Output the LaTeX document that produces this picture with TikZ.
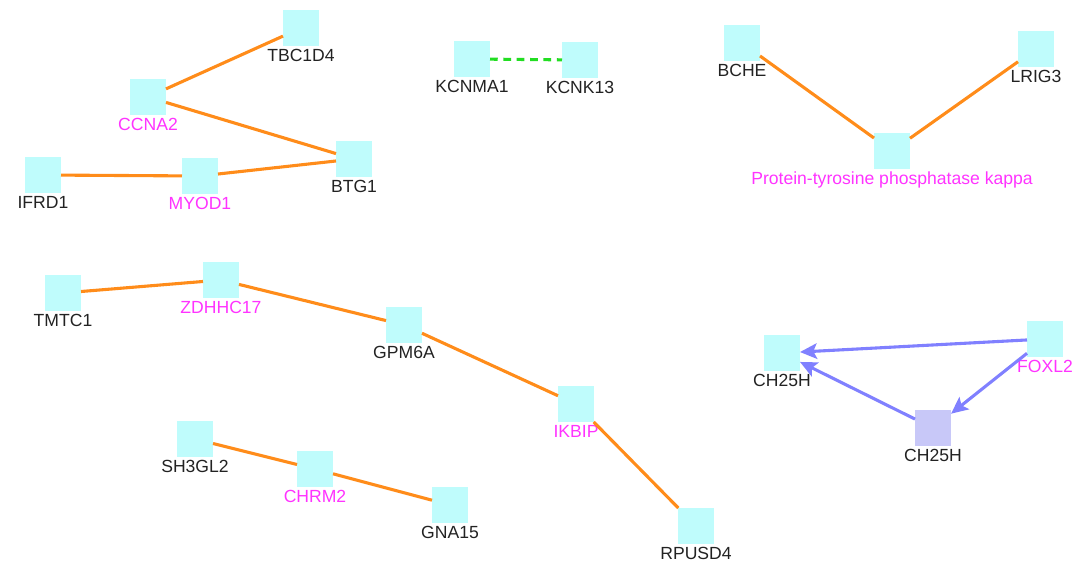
\documentclass[tikz,border=0pt]{standalone}
\usepackage{fontspec}
\setmainfont{Liberation Sans}
\usetikzlibrary{arrows.meta}
\definecolor{genecol}{HTML}{BFFCFC}
\definecolor{gene2col}{HTML}{C8C8F8}
\definecolor{edgecol}{HTML}{FF8C1A}
\definecolor{regcol}{HTML}{8080FF}
\definecolor{dashcol}{HTML}{22DD22}
\definecolor{hitcol}{HTML}{FF33FF}
\definecolor{txtcol}{HTML}{222222}

\begin{document}
\begin{tikzpicture}[
  x=0.025cm, y=-0.025cm,
  gene/.style={rectangle, fill=genecol, minimum size=0.9cm, inner sep=0pt, outer sep=0pt},
  gene2/.style={gene, fill=gene2col},
  lbl/.style={font=\fontsize{12.5}{14}\selectfont, text=txtcol, inner sep=2pt},
  lblhit/.style={lbl, text=hitcol},
  link/.style={draw=edgecol, line width=2.2pt},
  dlink/.style={draw=dashcol, line width=2.2pt, dash pattern=on 5.5pt off 4pt},
  reg/.style={draw=regcol, line width=2.2pt, -{Stealth[length=12pt, width=11pt, inset=2.5pt]}},
]
\useasboundingbox (0,0) rectangle (1073,565);

% =================== top left cluster ===================
\node[gene, label={[lbl]below:TBC1D4}] (tbc) at (301,28) {};
\node[gene, label={[lblhit]below:CCNA2}] (ccna) at (148,97) {};
\node[gene, label={[lbl]below:BTG1}] (btg) at (354,159) {};
\node[gene, label={[lbl]below:IFRD1}] (ifrd) at (43,175) {};
\node[gene, label={[lblhit]below:MYOD1}] (myod) at (200,176) {};

\draw[link] (ccna) -- (tbc);
\draw[link] (ccna) -- (btg);
\draw[link] (ifrd) -- (myod);
\draw[link] (myod) -- (btg);

% =================== channels ===================
\node[gene, label={[lbl]below:KCNMA1}] (kcnma) at (472,59) {};
\node[gene, label={[lbl]below:KCNK13}] (kcnk) at (580,60) {};
\draw[dlink] (kcnma) -- (kcnk);

% =================== top right ===================
\node[gene, label={[lbl]below:BCHE}] (bche) at (742,43) {};
\node[gene, label={[lbl]below:LRIG3}] (lrig) at (1036,49) {};
\node[gene, label={[lblhit]below:Protein-tyrosine phosphatase kappa}] (ptp) at (892,151) {};
\draw[link] (bche) -- (ptp);
\draw[link] (lrig) -- (ptp);

% =================== middle chain ===================
\node[gene, label={[lbl]below:TMTC1}] (tmtc) at (63,293) {};
\node[gene, label={[lblhit]below:ZDHHC17}] (zdhhc) at (221,280) {};
\node[gene, label={[lbl]below:GPM6A}] (gpm) at (404,325) {};
\node[gene, label={[lblhit]below:IKBIP}] (ikbip) at (576,404) {};
\node[gene, label={[lbl]below:RPUSD4}] (rpusd) at (696,526) {};
\draw[link] (tmtc) -- (zdhhc);
\draw[link] (zdhhc) -- (gpm);
\draw[link] (gpm) -- (ikbip);
\draw[link] (ikbip) -- (rpusd);

% =================== bottom left ===================
\node[gene, label={[lbl]below:SH3GL2}] (sh3) at (195,439) {};
\node[gene, label={[lblhit]below:CHRM2}] (chrm) at (315,469) {};
\node[gene, label={[lbl]below:GNA15}] (gna) at (450,505) {};
\draw[link] (sh3) -- (chrm);
\draw[link] (chrm) -- (gna);

% =================== regulation ===================
\node[gene, label={[lbl]below:CH25H}] (ch25a) at (782,353) {};
\node[gene, label={[lblhit]below:FOXL2}] (foxl) at (1045,339) {};
\node[gene2, label={[lbl]below:CH25H}] (ch25b) at (933,428) {};
\draw[reg] (foxl) -- (ch25a);
\draw[reg] (foxl) -- (ch25b);
\draw[reg] (ch25b) -- (ch25a);

\end{tikzpicture}
\end{document}
